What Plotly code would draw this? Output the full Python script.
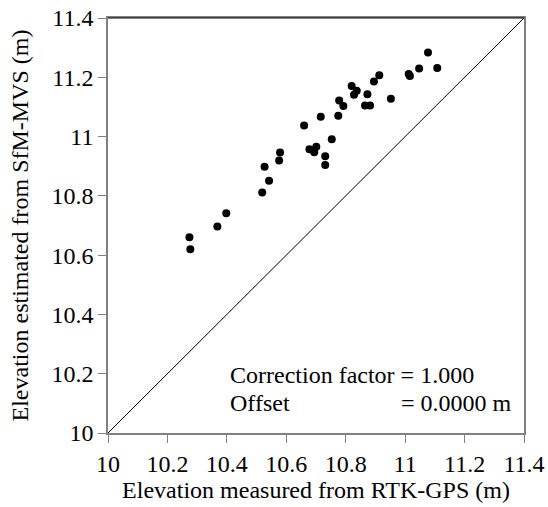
import plotly.graph_objects as go

measured = [11.077, 11.047, 11.108, 11.012, 11.016, 10.913, 10.895, 10.820, 10.837, 10.828,
            10.873, 10.952, 10.778, 10.792, 10.865, 10.882, 10.716, 10.775, 10.660, 10.753,
            10.678, 10.701, 10.694, 10.731, 10.731, 10.579, 10.576, 10.527, 10.542, 10.519,
            10.398, 10.368, 10.274, 10.277]
estimated = [11.284, 11.230, 11.231, 11.211, 11.204, 11.207, 11.186, 11.171, 11.155, 11.141,
             11.143, 11.128, 11.122, 11.103, 11.105, 11.105, 11.067, 11.070, 11.037, 10.991,
             10.957, 10.966, 10.947, 10.934, 10.904, 10.946, 10.919, 10.898, 10.851, 10.811,
             10.741, 10.697, 10.660, 10.620]
line_x = [10, 11.4]
line_y = [10, 11.4]
tick_vals = [10, 10.2, 10.4, 10.6, 10.8, 11, 11.2, 11.4]
tick_text = ["10", "10.2", "10.4", "10.6", "10.8", "11", "11.2", "11.4"]

FONT = "Liberation Serif, Times New Roman, serif"

fig = go.Figure()
fig.add_trace(go.Scatter(x=line_x, y=line_y, mode="lines",
                         line=dict(color="black", width=1), hoverinfo="skip"))
fig.add_trace(go.Scatter(x=measured, y=estimated, mode="markers",
                         marker=dict(color="black", size=8)))

axis_common = dict(
    range=[10, 11.4], tickvals=tick_vals, ticktext=tick_text, automargin=False,
    showgrid=False, zeroline=False, showline=True, linecolor="#808080", linewidth=1.5,
    mirror=True, ticks="outside", ticklen=8, tickcolor="#808080", tickwidth=1,
    tickfont=dict(family=FONT, size=24, color="black"),
)
fig.update_layout(
    width=548, height=507,
    margin=dict(l=108, r=24, t=18, b=74),
    paper_bgcolor="white", plot_bgcolor="white",
    showlegend=False,
    font=dict(family=FONT, color="black"),
    xaxis=dict(**axis_common,
               title=dict(text="Elevation measured from RTK-GPS (m)",
                          font=dict(family=FONT, size=24), standoff=2)),
    yaxis=dict(**axis_common,
               title=dict(text="Elevation estimated from SfM-MVS (m)",
                          font=dict(family=FONT, size=24), standoff=16)),
    shapes=[dict(type="line", xref="paper", yref="paper", x0=0, x1=1, y0=1, y1=1,
                 line=dict(color="black", width=1))],
    annotations=[
        dict(x=10.405, y=10.197, xref="x", yref="y", xanchor="left", yanchor="middle",
             text="Correction factor = 1.000", showarrow=False,
             font=dict(family=FONT, size=24)),
        dict(x=10.405, y=10.102, xref="x", yref="y", xanchor="left", yanchor="middle",
             text="Offset", showarrow=False, font=dict(family=FONT, size=24)),
        dict(x=11.365, y=10.102, xref="x", yref="y", xanchor="right", yanchor="middle",
             text="= 0.0000 m", showarrow=False, font=dict(family=FONT, size=24)),
    ],
)
fig.write_html("out.html")
